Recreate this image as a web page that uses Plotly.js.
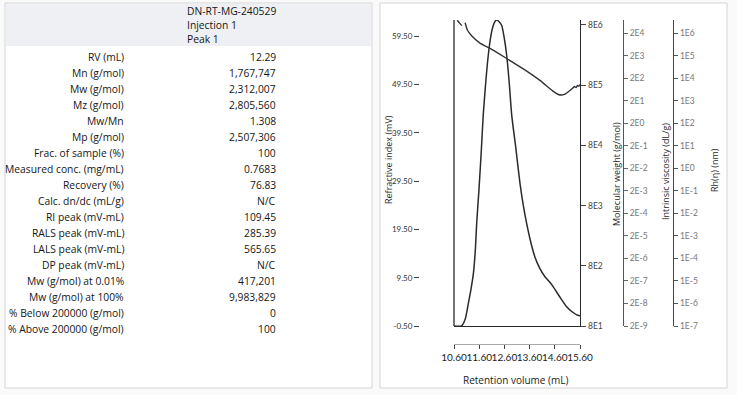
<!DOCTYPE html>
<html>
<head>
<meta charset="utf-8">
<script src="https://cdn.plot.ly/plotly-3.0.1.min.js"></script>
<style>html,body{margin:0;padding:0;background:#fff;}#chart{width:737px;height:395px;}</style>
</head>
<body>
<div id="chart"></div>
<script>
// ---- Table data ----
const HEADER_LINES = ["DN-RT-MG-240529", "Injection 1", "Peak 1"];
const ROW_LABELS = ["RV (mL)", "Mn (g/mol)", "Mw (g/mol)", "Mz (g/mol)", "Mw/Mn", "Mp (g/mol)",
  "Frac. of sample (%)", "Measured conc. (mg/mL)", "Recovery (%)", "Calc. dn/dc (mL/g)",
  "RI peak (mV-mL)", "RALS peak (mV-mL)", "LALS peak (mV-mL)", "DP peak (mV-mL)",
  "Mw (g/mol) at 0.01%", "Mw (g/mol) at 100%", "% Below 200000 (g/mol)", "% Above 200000 (g/mol)"];
const ROW_VALUES = ["12.29", "1,767,747", "2,312,007", "2,805,560", "1.308", "2,507,306",
  "100", "0.7683", "76.83", "N/C", "109.45", "285.39", "565.65", "N/C",
  "417,201", "9,983,829", "0", "100"];

// ---- Chromatogram data ----
const RV_RI = [10.60, 10.90, 11.05, 11.17, 11.27, 11.37, 11.45, 11.50, 11.59, 11.68, 11.76, 11.86, 11.96,
  12.06, 12.16, 12.24, 12.30, 12.38, 12.49, 12.59, 12.69, 12.79, 12.89, 13.05, 13.22, 13.35, 13.48,
  13.65, 13.81, 14.00, 14.21, 14.38, 14.54, 14.80, 15.07, 15.30, 15.47, 15.60];
const RI = [-0.5, -0.5, 1.0, 4.2, 7.0, 10.4, 15.5, 20.8, 27.7, 35.5, 43.2, 50.0, 55.6,
  59.5, 61.8, 62.7, 62.9, 62.6, 61.8, 59.3, 55.6, 50.0, 43.2, 36.5, 29.0, 24.5, 20.8,
  16.8, 13.8, 11.5, 9.7, 8.7, 7.6, 5.5, 3.5, 2.4, 1.8, 1.6];

const RV_MW = [10.73, 10.82, 10.91, null, 11.04, 11.13, 11.30, 11.63, 12.03, 12.69, 13.35, 14.01,
  14.54, 14.74, 14.88, 15.04, 15.27, 15.38, 15.44, 15.50, 15.55, 15.60];
const MW = [9.6e6, 8.6e6, 7.8e6, null, 8.7e6, 6.6e6, 5.3e6, 4.0e6, 3.26e6, 2.22e6, 1.49e6, 9.6e5,
  6.3e5, 5.6e5, 5.5e5, 5.8e5, 6.9e5, 7.6e5, 7.3e5, 7.9e5, 7.7e5, 8.2e5];

// ---- Axis ticks ----
const X_TICKS = [10.6, 11.6, 12.6, 13.6, 14.6, 15.6];
const X_TICK_TEXT = ["10.60", "11.60", "12.60", "13.60", "14.60", "15.60"];
const RI_TICKS = [-0.5, 9.5, 19.5, 29.5, 39.5, 49.5, 59.5];
const RI_TICK_TEXT = ["-0.50", "9.50", "19.50", "29.50", "39.50", "49.50", "59.50"];
const MW_TICKS = [8e1, 8e2, 8e3, 8e4, 8e5, 8e6];
const MW_TICK_TEXT = ["8E1", "8E2", "8E3", "8E4", "8E5", "8E6"];
const M2_TICKS = [2e4, 2e3, 2e2, 2e1, 2e0, 2e-1, 2e-2, 2e-3, 2e-4, 2e-5, 2e-6, 2e-7, 2e-8, 2e-9];
const M2_TICK_TEXT = ["2E4", "2E3", "2E2", "2E1", "2E0", "2E-1", "2E-2", "2E-3", "2E-4", "2E-5", "2E-6", "2E-7", "2E-8", "2E-9"];
const IV_TICKS = [1e6, 1e5, 1e4, 1e3, 1e2, 1e1, 1e0, 1e-1, 1e-2, 1e-3, 1e-4, 1e-5, 1e-6, 1e-7];
const IV_TICK_TEXT = ["1E6", "1E5", "1E4", "1E3", "1E2", "1E1", "1E0", "1E-1", "1E-2", "1E-3", "1E-4", "1E-5", "1E-6", "1E-7"];

// ---- Layout helpers (pixel -> paper) ----
const W = 737, H = 395;
const px = x => x / W;
const py = y => 1 - y / H;
const FONT = "'Open Sans', Lato, sans-serif";
const TICKFONT = "Lato, 'Open Sans', sans-serif";
const TXT = "#161616";

const traces = [
  {x: RV_RI, y: RI, xaxis: "x", yaxis: "y", type: "scatter", mode: "lines",
   line: {color: "#2a2a2a", width: 1.5, shape: "spline", smoothing: 0.6}, hoverinfo: "skip", showlegend: false},
  {x: RV_MW, y: MW, xaxis: "x", yaxis: "y2", type: "scatter", mode: "lines", connectgaps: false,
   line: {color: "#333", width: 1.4, shape: "spline", smoothing: 0.4}, hoverinfo: "skip", showlegend: false},
  {x: [], y: [], xaxis: "x", yaxis: "y3", type: "scatter", mode: "lines", showlegend: false, hoverinfo: "skip"},
  {x: [], y: [], xaxis: "x", yaxis: "y4", type: "scatter", mode: "lines", showlegend: false, hoverinfo: "skip"},
  {x: [], y: [], xaxis: "x2", yaxis: "y", type: "scatter", mode: "lines", showlegend: false, hoverinfo: "skip"}
];

const tableFont = {family: FONT, size: 10.3, color: TXT};
const annotations = [];
HEADER_LINES.forEach((t, i) => annotations.push({
  text: t, x: px(185), y: py(11 + 14 * i), xref: "paper", yref: "paper",
  xanchor: "left", yanchor: "middle", showarrow: false, font: tableFont}));
ROW_LABELS.forEach((t, i) => annotations.push({
  text: t, x: px(126), y: py(57 + 16 * i), xref: "paper", yref: "paper",
  xanchor: "right", yanchor: "middle", showarrow: false, font: tableFont}));
ROW_VALUES.forEach((t, i) => annotations.push({
  text: t, x: px(278), y: py(57 + 16 * i), xref: "paper", yref: "paper",
  xanchor: "right", yanchor: "middle", showarrow: false, font: tableFont}));

const titleFont = {family: FONT, size: 9, color: "#2b2b2b"};
annotations.push({text: "Refractive index (mV)", x: px(389), y: py(160), xref: "paper", yref: "paper",
  textangle: -90, showarrow: false, xanchor: "center", yanchor: "middle", font: titleFont});
annotations.push({text: "Molecular weight (g/mol)", x: px(616), y: py(174), xref: "paper", yref: "paper",
  textangle: -90, showarrow: false, xanchor: "center", yanchor: "middle", font: titleFont});
annotations.push({text: "Intrinsic viscosity (dL/g)", x: px(665), y: py(172), xref: "paper", yref: "paper",
  textangle: -90, showarrow: false, xanchor: "center", yanchor: "middle", font: titleFont});
annotations.push({text: "Rh(η) (nm)", x: px(714), y: py(170), xref: "paper", yref: "paper",
  textangle: -90, showarrow: false, xanchor: "center", yanchor: "middle", font: titleFont});
annotations.push({text: "Retention volume (mL)", x: px(516), y: py(380), xref: "paper", yref: "paper",
  showarrow: false, xanchor: "center", yanchor: "middle", font: {family: FONT, size: 10, color: "#222"}});

const shapes = [
  // table panel
  {type: "rect", xref: "paper", yref: "paper", x0: px(5), x1: px(372), y0: py(388), y1: py(3),
   line: {color: "#d4d4d4", width: 1}, fillcolor: "#ffffff", layer: "below"},
  {type: "rect", xref: "paper", yref: "paper", x0: px(6), x1: px(371), y0: py(46), y1: py(4),
   line: {width: 0}, fillcolor: "#eef0f3", layer: "below"},
  // chart panel
  {type: "rect", xref: "paper", yref: "paper", x0: px(380), x1: px(727), y0: py(388), y1: py(3),
   line: {color: "#d4d4d4", width: 1}, fillcolor: "#ffffff", layer: "below"},
  // left frame line of plot box
  {type: "line", xref: "paper", yref: "paper", x0: px(454), x1: px(454), y0: py(326), y1: py(20),
   line: {color: "#2a2a2a", width: 1.3}}
];

const tickFont = {family: TICKFONT, size: 8, color: "#333"};
const grayTick = {family: TICKFONT, size: 8.5, color: "#777"};

const layout = {
  width: W, height: H,
  margin: {l: 0, r: 0, t: 0, b: 0},
  paper_bgcolor: "#fafafa", plot_bgcolor: "rgba(0,0,0,0)",
  showlegend: false,
  xaxis: {domain: [px(454), px(580)], range: [10.6, 15.6], anchor: "y",
    showline: true, linecolor: "#2a2a2a", linewidth: 1.3, ticks: "", showticklabels: false,
    showgrid: false, zeroline: false},
  xaxis2: {overlaying: "x", anchor: "free", position: py(344), range: [10.6, 15.6],
    tickvals: X_TICKS, ticktext: X_TICK_TEXT, tickangle: 0,
    showline: true, linecolor: "#aaa", linewidth: 1, ticks: "outside", ticklen: 4, tickcolor: "#444",
    tickfont: {family: TICKFONT, size: 10, color: "#222"}, showgrid: false, zeroline: false},
  yaxis: {domain: [py(326), py(20)], range: [-0.5, 62.9], anchor: "free", position: px(419), side: "left",
    tickvals: RI_TICKS, ticktext: RI_TICK_TEXT, ticks: "outside", ticklen: 5, tickcolor: "#444",
    tickfont: tickFont, showline: false, showgrid: false, zeroline: false},
  yaxis2: {overlaying: "y", anchor: "x", side: "right", type: "log",
    range: [Math.log10(80), 6.986], tickvals: MW_TICKS, ticktext: MW_TICK_TEXT,
    showline: true, linecolor: "#2a2a2a", linewidth: 1.3, ticks: "outside", ticklen: 5, tickcolor: "#444",
    tickfont: {family: TICKFONT, size: 8.5, color: "#444"}, showgrid: false, zeroline: false},
  yaxis3: {overlaying: "y", anchor: "free", position: px(623), side: "right", type: "log",
    range: [Math.log10(2e-9), 4.892], tickvals: M2_TICKS, ticktext: M2_TICK_TEXT,
    showline: true, linecolor: "#555", linewidth: 1, ticks: "outside", ticklen: 4, tickcolor: "#666",
    tickfont: grayTick, showgrid: false, zeroline: false},
  yaxis4: {overlaying: "y", anchor: "free", position: px(673), side: "right", type: "log",
    range: [-7, 6.591], tickvals: IV_TICKS, ticktext: IV_TICK_TEXT,
    showline: true, linecolor: "#444", linewidth: 1.2, ticks: "outside", ticklen: 4, tickcolor: "#555",
    tickfont: grayTick, showgrid: false, zeroline: false},
  annotations: annotations,
  shapes: shapes
};

Plotly.newPlot("chart", traces, layout, {displayModeBar: false, staticPlot: true});
</script>
</body>
</html>
